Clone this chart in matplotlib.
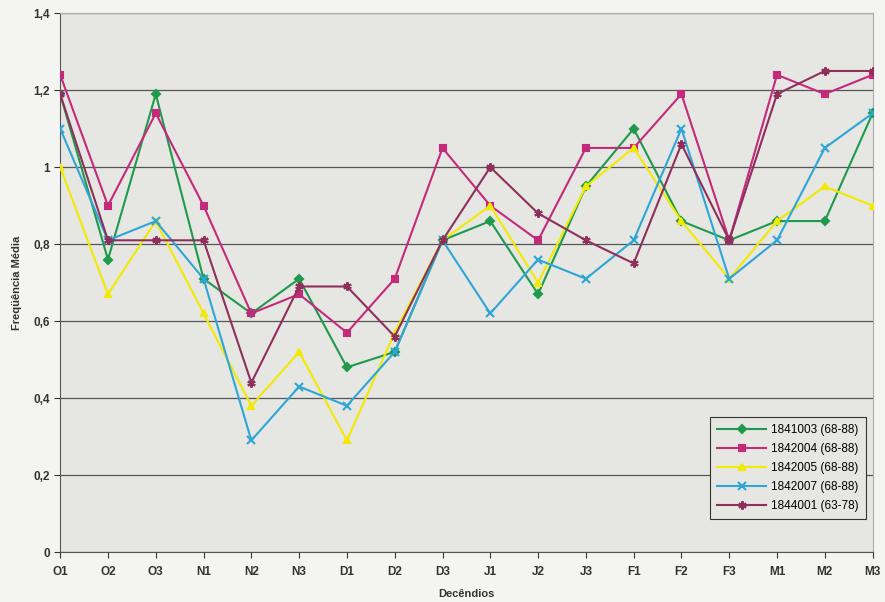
import matplotlib.pyplot as plt
import numpy as np
from matplotlib.ticker import FuncFormatter

plt.rcParams['font.family'] = ['Liberation Sans', 'DejaVu Sans']

decendios = ["O1", "O2", "O3", "N1", "N2", "N3", "D1", "D2", "D3",
             "J1", "J2", "J3", "F1", "F2", "F3", "M1", "M2", "M3"]

s1841003 = [1.19, 0.76, 1.19, 0.71, 0.62, 0.71, 0.48, 0.52, 0.81,
            0.86, 0.67, 0.95, 1.10, 0.86, 0.81, 0.86, 0.86, 1.14]
s1842004 = [1.24, 0.90, 1.14, 0.90, 0.62, 0.67, 0.57, 0.71, 1.05,
            0.90, 0.81, 1.05, 1.05, 1.19, 0.81, 1.24, 1.19, 1.24]
s1842005 = [1.00, 0.67, 0.86, 0.62, 0.38, 0.52, 0.29, 0.57, 0.81,
            0.90, 0.70, 0.95, 1.05, 0.86, 0.71, 0.86, 0.95, 0.90]
s1842007 = [1.10, 0.81, 0.86, 0.71, 0.29, 0.43, 0.38, 0.52, 0.81,
            0.62, 0.76, 0.71, 0.81, 1.10, 0.71, 0.81, 1.05, 1.14]
s1844001 = [1.19, 0.81, 0.81, 0.81, 0.44, 0.69, 0.69, 0.56, 0.81,
            1.00, 0.88, 0.81, 0.75, 1.06, 0.81, 1.19, 1.25, 1.25]

series = [
    ("1841003 (68-88)", s1841003, '#1f9a4c', 'D', 4),
    ("1842004 (68-88)", s1842004, '#c42a7c', 's', 5),
    ("1842005 (68-88)", s1842005, '#f2ea00', '^', 5),
    ("1842007 (68-88)", s1842007, '#2ea6d6', 'x', 6),
    ("1844001 (63-78)", s1844001, '#8e2f5c', (6, 2, 0), 6),
]

x = np.arange(len(decendios))

fig = plt.figure(figsize=(8.85, 6.02), dpi=100)
fig.patch.set_facecolor('#f4f4f2')
ax = fig.add_axes([0.068, 0.083, 0.918, 0.895])
ax.set_facecolor('#e6e6e3')

for label, vals, color, marker, ms in series:
    ax.plot(x, vals, color=color, marker=marker, markersize=ms, linewidth=1.5,
            markeredgewidth=1.5, label=label, zorder=3)

ax.set_xlim(0, len(decendios) - 1)
ax.set_ylim(0, 1.4)
ax.set_yticks(np.arange(0, 1.41, 0.2))
ax.yaxis.set_major_formatter(FuncFormatter(lambda v, p: ('%g' % round(v, 1)).replace('.', ',')))
ax.set_xticks(x, decendios)
ax.yaxis.grid(True, color='#555555', linewidth=0.9)
ax.set_axisbelow(True)

ax.tick_params(axis='both', labelsize=8.5, colors='#333333', length=4, width=0.8)
ax.tick_params(axis='x', pad=6)
for lbl in ax.get_xticklabels() + ax.get_yticklabels():
    lbl.set_fontweight('bold')
    lbl.set_color('#333333')

for side in ['left', 'bottom']:
    ax.spines[side].set_color('#555555')
for side in ['top', 'right']:
    ax.spines[side].set_color('#aaaaaa')

ax.set_ylabel('Freqüência Média', fontsize=8, fontweight='bold', color='#333333', labelpad=8)
ax.set_xlabel('Decêndios', fontsize=8, fontweight='bold', color='#333333', labelpad=8)

leg = ax.legend(loc='lower right', bbox_to_anchor=(0.999, 0.05), fontsize=8.5,
                frameon=True, fancybox=False, edgecolor='#333333',
                facecolor='#e6e6e3', framealpha=1, handlelength=4.2,
                labelspacing=0.6, borderpad=0.6, handletextpad=0.4)
leg.get_frame().set_linewidth(0.8)

fig.savefig('out.png', dpi=100)
